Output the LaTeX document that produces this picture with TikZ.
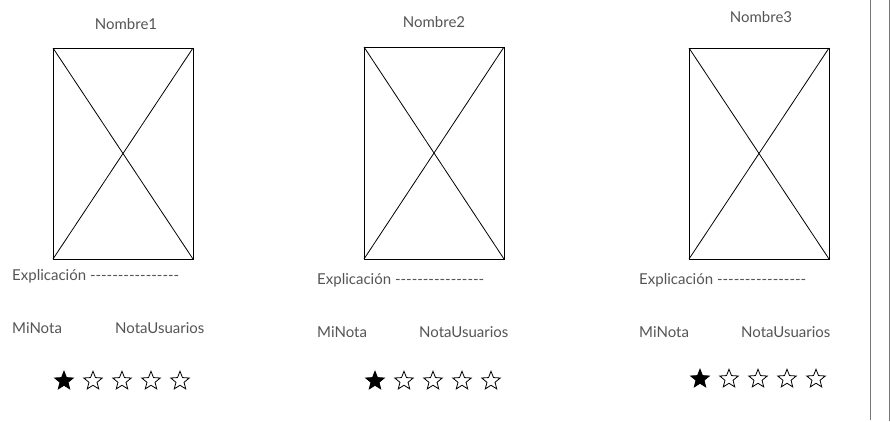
\documentclass[tikz,border=0pt]{standalone}
\usepackage{fontspec}
\setmainfont{Lato}[Ligatures=TeXOff]
\usetikzlibrary{shapes.geometric}
\definecolor{txt}{HTML}{555555}
\definecolor{edge}{HTML}{777777}
\begin{document}
\begin{tikzpicture}[x=1pt,y=-1pt,
  lbl/.style={font=\fontsize{15}{17}\selectfont, text=txt, inner sep=0pt},
  llbl/.style={lbl, anchor=west},
  img/.style={draw=black, line width=0.9pt},
  fstar/.style={star, star points=5, star point ratio=2.3, minimum size=19.5pt, inner sep=0pt, draw=black, fill=black, line width=0.8pt},
  ostar/.style={star, star points=5, star point ratio=2.3, minimum size=19.5pt, inner sep=0pt, draw=black, line width=0.8pt}]
\useasboundingbox (0,0) rectangle (890,421);
\fill[white] (0,0) rectangle (890,421);
\draw[edge, line width=1pt] (870,0) -- (870,420);
\draw[edge, line width=1pt] (889.5,0) -- (889.5,421);
% card 1
\node[lbl] (n1) at (126,24) {Nombre1};
\draw[img] (53,48) rectangle (193,259);
\draw[line width=0.8pt] (53,48) -- (193,259) (193,48) -- (53,259);
\node[llbl] (e1) at (12,276) {Explicación ----------------};
\node[llbl] (m1) at (12,328) {MiNota};
\node[llbl] (u1) at (115,328) {NotaUsuarios};
\node[fstar] (s11) at (64,381) {};
\foreach \x/\i in {93/2,122/3,151/4,180/5} \node[ostar] (s1\i) at (\x,381) {};
% card 2
\node[lbl] (n2) at (434,22) {Nombre2};
\draw[img] (364,47) rectangle (504,259);
\draw[line width=0.8pt] (364,47) -- (504,259) (504,47) -- (364,259);
\node[llbl] (e2) at (317,280) {Explicación ----------------};
\node[llbl] (m2) at (317,332) {MiNota};
\node[llbl] (u2) at (419,332) {NotaUsuarios};
\node[fstar] (s21) at (375,381) {};
\foreach \x/\i in {404/2,433/3,462/4,491/5} \node[ostar] (s2\i) at (\x,381) {};
% card 3
\node[lbl] (n3) at (761,17) {Nombre3};
\draw[img] (689,48) rectangle (829,259);
\draw[line width=0.8pt] (689,48) -- (829,259) (829,48) -- (689,259);
\node[llbl] (e3) at (639,280) {Explicación ----------------};
\node[llbl] (m3) at (639,332) {MiNota};
\node[llbl] (u3) at (741,332) {NotaUsuarios};
\node[fstar] (s31) at (700,379) {};
\foreach \x/\i in {729/2,758/3,787/4,816/5} \node[ostar] (s3\i) at (\x,379) {};
\end{tikzpicture}
\end{document}
